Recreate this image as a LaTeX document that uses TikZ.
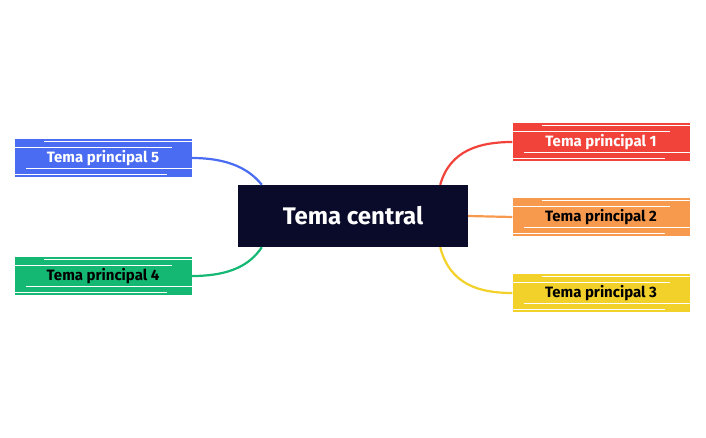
\documentclass[tikz,border=0pt]{standalone}
\usepackage{fontspec}
\setmainfont{Fira Sans}
\definecolor{navy}{HTML}{0A0A2A}
\definecolor{cred}{HTML}{F2433A}
\definecolor{corange}{HTML}{F79A4E}
\definecolor{cyellow}{HTML}{F2D12B}
\definecolor{cblue}{HTML}{4A6CF2}
\definecolor{cgreen}{HTML}{14B873}
\begin{document}
\begin{tikzpicture}[x=1pt,y=-1pt,
  topic/.style={minimum width=177pt,minimum height=38pt,inner sep=0pt,font=\fontsize{15}{18}\selectfont\bfseries},
  link/.style={line width=2.2pt}]
\useasboundingbox (0,0) rectangle (706,437);
\node[fill=navy,text=white,minimum width=230pt,minimum height=62pt,font=\fontsize{24}{28}\selectfont\bfseries] (c) at (353,216) {Tema central};
\node[topic,fill=cred,text=white] (t1) at (601,142) {Tema principal 1};
\node[topic,fill=corange,text=black] (t2) at (601,217) {Tema principal 2};
\node[topic,fill=cyellow,text=black] (t3) at (601,293) {Tema principal 3};
\node[topic,fill=cblue,text=white] (t5) at (103,158) {Tema principal 5};
\node[topic,fill=cgreen,text=black] (t4) at (103,276) {Tema principal 4};
\foreach \n in {t1,t2,t3,t4,t5}{
  \draw[white,line width=1.2pt] ([yshift=-9pt]\n.north west) -- ([yshift=-9pt,xshift=-20pt]\n.north east);
  \draw[white,line width=1.2pt] ([yshift=9pt,xshift=12pt]\n.south west) -- ([yshift=9pt]\n.south east);
  \draw[white,line width=1pt] ([yshift=-3pt,xshift=30pt]\n.north west) -- ([yshift=-3pt]\n.north east);
  \draw[white,line width=1pt] ([yshift=3pt]\n.south west) -- ([yshift=3pt,xshift=-25pt]\n.south east);
}
\draw[link,cred] ([xshift=-28pt]c.north east) .. controls (450,150) and (480,142) .. (t1.west);
\draw[link,corange] (c.east) -- (t2.west);
\draw[link,cyellow] ([xshift=-28pt]c.south east) .. controls (450,285) and (480,293) .. (t3.west);
\draw[link,cblue] (t5.east) .. controls (230,158) and (250,170) .. ([xshift=24pt]c.north west);
\draw[link,cgreen] (t4.east) .. controls (230,276) and (250,265) .. ([xshift=24pt]c.south west);
\end{tikzpicture}
\end{document}
